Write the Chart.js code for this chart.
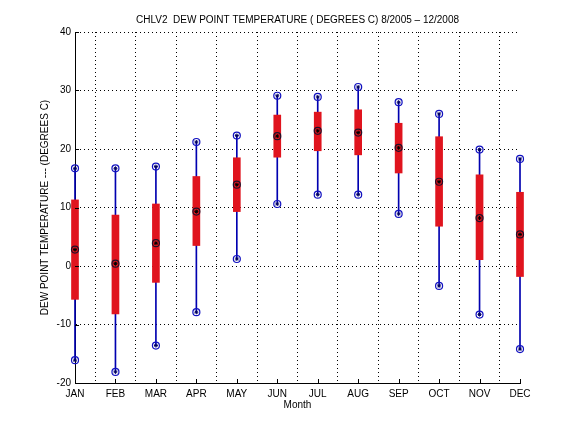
<!DOCTYPE html>
<html>
<head>
<meta charset="utf-8">
<script src="https://cdn.jsdelivr.net/npm/chart.js@4/dist/chart.umd.min.js"></script>
<style>
  html, body { margin: 0; padding: 0; background: #fff; }
  #wrap { width: 576px; height: 432px; }
</style>
</head>
<body>
<div id="wrap"><canvas id="dewChart" width="576" height="432"></canvas></div>
<script>
const months = ['JAN', 'FEB', 'MAR', 'APR', 'MAY', 'JUN', 'JUL', 'AUG', 'SEP', 'OCT', 'NOV', 'DEC'];
const maxVals = [16.7, 16.7, 17.0, 21.2, 22.3, 29.1, 28.9, 30.6, 28.0, 26.0, 19.9, 18.3];
const upperVals = [11.3, 8.7, 10.6, 15.3, 18.5, 25.8, 26.3, 26.7, 24.4, 22.1, 15.6, 12.6];
const midVals = [2.8, 0.4, 3.9, 9.3, 13.9, 22.2, 23.1, 22.8, 20.2, 14.4, 8.2, 5.4];
const lowerVals = [-5.7, -8.2, -2.8, 3.5, 9.3, 18.6, 19.7, 19.0, 15.9, 6.8, 1.1, -1.8];
const minVals = [-16.1, -18.1, -13.6, -7.9, 1.2, 10.6, 12.2, 12.2, 8.9, -3.4, -8.3, -14.2];
const yTicks = [-20, -10, 0, 10, 20, 30, 40];
const chartTitle = 'CHLV2  DEW POINT TEMPERATURE ( DEGREES C) 8/2005 \u2013 12/2008';

const FONT = { family: '"Liberation Sans", Arial, Helvetica, sans-serif', size: 10 };

// small inward tick marks like the original plot, plus the title centred on the axes
const axesExtras = {
  id: 'axesExtras',
  afterDatasetsDraw(chart) {
    const { ctx, chartArea, scales } = chart;
    ctx.save();
    ctx.strokeStyle = '#000';
    ctx.lineWidth = 1;
    ctx.beginPath();
    scales.x.ticks.forEach((t, i) => {
      const px = Math.round(scales.x.getPixelForTick(i)) + 0.5;
      ctx.moveTo(px, chartArea.bottom);
      ctx.lineTo(px, chartArea.bottom - 4);
    });
    scales.y.ticks.forEach((t, i) => {
      const py = Math.round(scales.y.getPixelForTick(i)) + 0.5;
      ctx.moveTo(chartArea.left, py);
      ctx.lineTo(chartArea.left + 4, py);
    });
    ctx.stroke();

    ctx.fillStyle = '#000';
    ctx.font = `${FONT.size}px ${FONT.family}`;
    ctx.textAlign = 'center';
    ctx.textBaseline = 'middle';
    ctx.fillText(chartTitle, (chartArea.left + chartArea.right) / 2, 20);
    ctx.restore();
  },
};

const ctx = document.getElementById('dewChart').getContext('2d');
// eslint-disable-next-line no-unused-vars
const dewChart = new Chart(ctx, {
  type: 'bar',
  data: {
    labels: months,
    datasets: [
      {
        label: 'range',
        data: months.map((m, i) => [minVals[i], maxVals[i]]),
        backgroundColor: '#0000b0',
        barThickness: 1,
        grouped: false,
        clip: false,
        order: 5,
      },
      {
        label: 'box',
        data: months.map((m, i) => [lowerVals[i], upperVals[i]]),
        backgroundColor: '#e0141e',
        barThickness: 7,
        grouped: false,
        clip: false,
        order: 4,
      },
      {
        type: 'line',
        label: 'max',
        data: maxVals,
        showLine: false,
        pointStyle: 'circle',
        pointRadius: 3.5,
        pointBorderWidth: 1.2,
        pointBorderColor: '#1010c0',
        pointBackgroundColor: 'rgba(255,255,255,0)',
        clip: false,
        order: 3,
      },
      {
        type: 'line',
        label: 'min',
        data: minVals,
        showLine: false,
        pointStyle: 'circle',
        pointRadius: 3.5,
        pointBorderWidth: 1.2,
        pointBorderColor: '#1010c0',
        pointBackgroundColor: 'rgba(255,255,255,0)',
        clip: false,
        order: 3,
      },
      {
        type: 'line',
        label: 'mid',
        data: midVals,
        showLine: false,
        pointStyle: 'circle',
        pointRadius: 3.5,
        pointBorderWidth: 1.2,
        pointBorderColor: '#20102a',
        pointBackgroundColor: 'rgba(255,255,255,0)',
        clip: false,
        order: 3,
      },
      {
        type: 'line',
        label: 'maxdot',
        data: maxVals,
        showLine: false,
        pointStyle: 'star',
        pointRadius: 2,
        pointBorderWidth: 1,
        pointBorderColor: '#000060',
        clip: false,
        order: 2,
      },
      {
        type: 'line',
        label: 'mindot',
        data: minVals,
        showLine: false,
        pointStyle: 'star',
        pointRadius: 2,
        pointBorderWidth: 1,
        pointBorderColor: '#000060',
        clip: false,
        order: 2,
      },
      {
        type: 'line',
        label: 'middot',
        data: midVals,
        showLine: false,
        pointStyle: 'star',
        pointRadius: 2,
        pointBorderWidth: 1,
        pointBorderColor: '#000000',
        clip: false,
        order: 2,
      },
    ],
  },
  options: {
    responsive: false,
    animation: false,
    events: [],
    layout: { padding: { left: 0, right: 56, top: 32, bottom: 0 } },
    plugins: {
      legend: { display: false },
      tooltip: { enabled: false },
      title: { display: false },
    },
    scales: {
      x: {
        type: 'category',
        offset: false,
        grid: { display: true, color: '#000', lineWidth: 1, drawTicks: false },
        border: { display: true, color: '#000', width: 1, dash: [1, 3] },
        ticks: { color: '#000', font: FONT, padding: 5, maxRotation: 0, autoSkip: false },
        title: {
          display: true,
          text: 'Month',
          color: '#000',
          font: FONT,
          padding: { top: 0, bottom: 21 },
        },
        afterFit(scale) { scale.height = 49; },
      },
      y: {
        min: -20,
        max: 40,
        afterBuildTicks(scale) { scale.ticks = yTicks.map((v) => ({ value: v })); },
        grid: { display: true, color: '#000', lineWidth: 1, drawTicks: false },
        border: { display: true, color: '#000', width: 1, dash: [1, 3] },
        ticks: { color: '#000', font: FONT, padding: 4 },
        title: {
          display: true,
          text: 'DEW POINT TEMPERATURE --- (DEGREES C)',
          color: '#000',
          font: FONT,
          padding: { top: 39, bottom: 0 },
        },
        afterFit(scale) { scale.width = 75; },
      },
    },
  },
  plugins: [axesExtras],
});
</script>
</body>
</html>
